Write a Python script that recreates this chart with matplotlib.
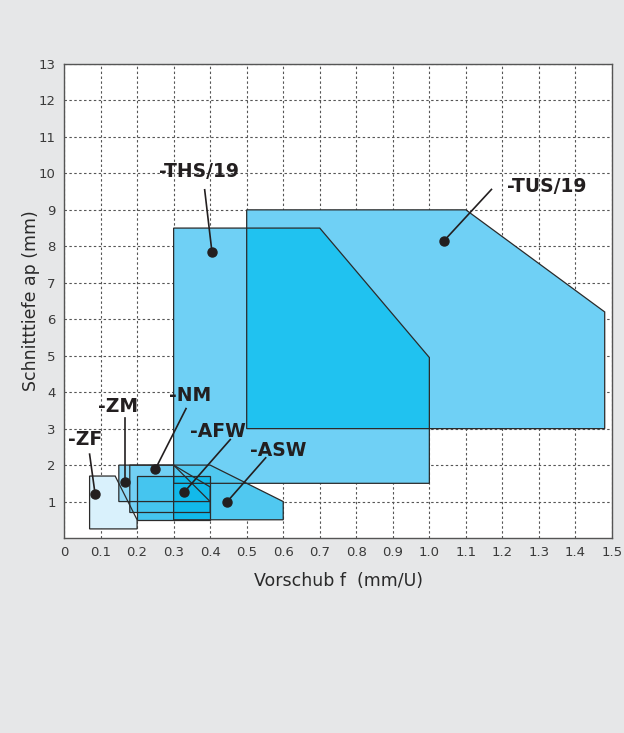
import matplotlib
matplotlib.use("Agg")
import matplotlib.pyplot as plt
from matplotlib.patches import Polygon

# chip breaker ranges: feed f (mm/U), depth of cut ap (mm)
ths_f = [0.3, 0.3, 0.7, 1.0, 1.0]
ths_ap = [1.5, 8.5, 8.5, 4.95, 1.5]
tus_f = [0.5, 0.5, 1.1, 1.48, 1.48]
tus_ap = [3.0, 9.0, 9.0, 6.2, 3.0]
zf_f = [0.07, 0.07, 0.14, 0.2, 0.2]
zf_ap = [0.25, 1.7, 1.7, 0.5, 0.25]
zm_f = [0.15, 0.15, 0.3, 0.4]
zm_ap = [1.0, 2.0, 2.0, 1.0]
nm_f = [0.18, 0.18, 0.3, 0.4, 0.4]
nm_ap = [0.7, 2.0, 2.0, 1.4, 0.7]
afw_f = [0.2, 0.2, 0.4, 0.4]
afw_ap = [0.5, 1.7, 1.7, 0.5]
asw_f = [0.3, 0.3, 0.4, 0.6, 0.6]
asw_ap = [0.5, 2.0, 2.0, 1.0, 0.5]

# labels: name, text pos, leader start, dot
lab_names = ["-THS/19", "-TUS/19", "-ZF", "-ZM", "-NM", "-AFW", "-ASW"]
lab_xy = [(0.37, 10.04), (1.32, 9.63), (0.058, 2.69), (0.148, 3.62),
          (0.345, 3.9), (0.42, 2.92), (0.586, 2.41)]
lead_xy = [(0.385, 9.55), (1.17, 9.56), (0.07, 2.3), (0.167, 3.3),
           (0.334, 3.55), (0.455, 2.7), (0.552, 2.2)]
dot_xy = [(0.405, 7.84), (1.04, 8.15), (0.085, 1.21), (0.167, 1.54),
          (0.25, 1.89), (0.329, 1.26), (0.446, 0.99)]

bg = "#e6e7e8"
edge = "#2b2b2b"
txt = "#231f20"

fig = plt.figure(figsize=(6.24, 7.33), dpi=100, facecolor=bg)
ax = fig.add_axes([0.1026, 0.266, 0.8782, 0.6467])
ax.set_facecolor("white")

def poly(f, ap, color, z, clip=None):
    p = Polygon(list(zip(f, ap)), closed=True, facecolor=color,
                edgecolor="none", zorder=z)
    ax.add_patch(p)
    if clip is not None:
        p.set_clip_path(clip)
    return p

def outline(f, ap):
    ax.add_patch(Polygon(list(zip(f, ap)), closed=True, facecolor="none",
                         edgecolor=edge, lw=0.9, zorder=6))

tus = poly(tus_f, tus_ap, "#6fd0f5", 2)
poly(ths_f, ths_ap, "#6fd0f5", 2.1)
poly(ths_f, ths_ap, "#20c2f0", 2.2, clip=tus)

poly(zf_f, zf_ap, "#d9f1fc", 3)
poly(zm_f, zm_ap, "#8fd8f5", 3.1)
poly(nm_f, nm_ap, "#72d0f4", 3.2)
afw = poly(afw_f, afw_ap, "#45c5ef", 3.3)
poly(asw_f, asw_ap, "#50c8f0", 3.4)
poly(asw_f, asw_ap, "#12b9ea", 3.5, clip=afw)

for f, ap in [(tus_f, tus_ap), (ths_f, ths_ap), (zf_f, zf_ap), (zm_f, zm_ap),
              (nm_f, nm_ap), (afw_f, afw_ap), (asw_f, asw_ap)]:
    outline(f, ap)

for name, t, l, d in zip(lab_names, lab_xy, lead_xy, dot_xy):
    ax.plot([l[0], d[0]], [l[1], d[1]], color=txt, lw=1.2, zorder=7)
    ax.plot(d[0], d[1], "o", color=txt, ms=6.5, zorder=8)
    ax.text(t[0], t[1], name, ha="center", va="center", fontsize=13.5,
            fontweight="bold", color=txt, zorder=9)

ax.set_xlim(0, 1.5)
ax.set_ylim(0, 13)
ax.set_xticks([i / 10 for i in range(16)])
ax.set_xticklabels(["0"] + [f"{i / 10:.1f}" for i in range(1, 16)])
ax.set_yticks(range(1, 14))
ax.tick_params(length=0, labelsize=9.5, labelcolor="#3a3a3a", pad=6)
ax.grid(True, color="#555555", lw=0.8, ls=(0, (2.2, 2.2)), zorder=1)
ax.set_axisbelow(True)
for s in ax.spines.values():
    s.set_color("#555555")
    s.set_linewidth(1.0)
    s.set_zorder(10)

ax.set_xlabel("Vorschub f  (mm/U)", fontsize=12.5, color="#2a2a2a", labelpad=9)
ax.set_ylabel("Schnitttiefe ap (mm)", fontsize=12.5, color="#2a2a2a", labelpad=-1)

fig.savefig("out.png", dpi=100, facecolor=bg)
